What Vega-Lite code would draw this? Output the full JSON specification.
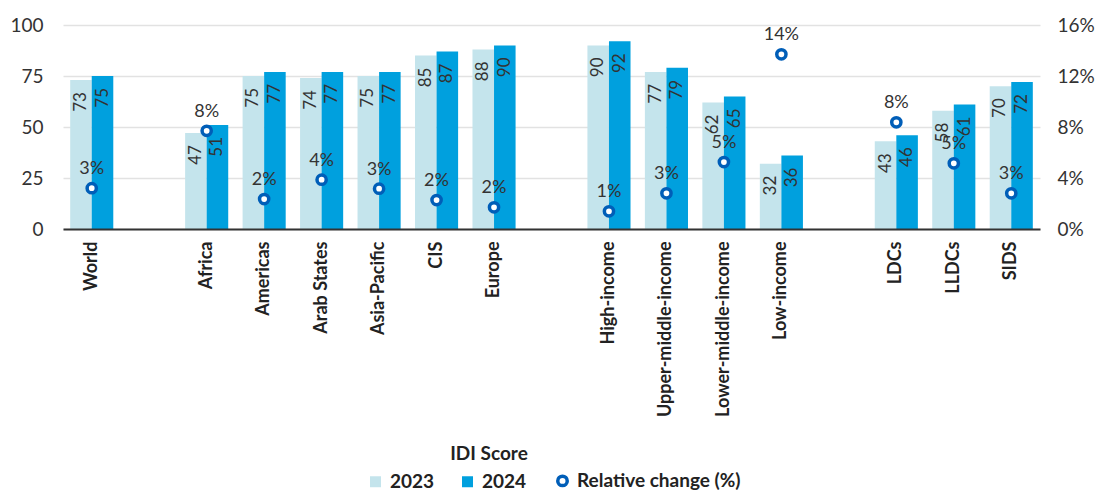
{
  "$schema": "https://vega.github.io/schema/vega-lite/v6.json",
  "width": 977,
  "height": 204,
  "autosize": {"type": "none"},
  "padding": {"left": 63, "top": 25, "right": 60, "bottom": 262},
  "background": "white",
  "config": {
    "font": "Lato",
    "view": {"stroke": null},
    "axis": {"labelFont": "Lato", "titleFont": "Lato"},
    "legend": {"labelFont": "Lato", "titleFont": "Lato"}
  },
  "datasets": {
    "scores": [
      {"region": "World", "year": "2023", "score": 73},
      {"region": "World", "year": "2024", "score": 75},
      {"region": "Africa", "year": "2023", "score": 47},
      {"region": "Africa", "year": "2024", "score": 51},
      {"region": "Americas", "year": "2023", "score": 75},
      {"region": "Americas", "year": "2024", "score": 77},
      {"region": "Arab States", "year": "2023", "score": 74},
      {"region": "Arab States", "year": "2024", "score": 77},
      {"region": "Asia-Pacific", "year": "2023", "score": 75},
      {"region": "Asia-Pacific", "year": "2024", "score": 77},
      {"region": "CIS", "year": "2023", "score": 85},
      {"region": "CIS", "year": "2024", "score": 87},
      {"region": "Europe", "year": "2023", "score": 88},
      {"region": "Europe", "year": "2024", "score": 90},
      {"region": "High-income", "year": "2023", "score": 90},
      {"region": "High-income", "year": "2024", "score": 92},
      {"region": "Upper-middle-income", "year": "2023", "score": 77},
      {"region": "Upper-middle-income", "year": "2024", "score": 79},
      {"region": "Lower-middle-income", "year": "2023", "score": 62},
      {"region": "Lower-middle-income", "year": "2024", "score": 65},
      {"region": "Low-income", "year": "2023", "score": 32},
      {"region": "Low-income", "year": "2024", "score": 36},
      {"region": "LDCs", "year": "2023", "score": 43},
      {"region": "LDCs", "year": "2024", "score": 46},
      {"region": "LLDCs", "year": "2023", "score": 58},
      {"region": "LLDCs", "year": "2024", "score": 61},
      {"region": "SIDS", "year": "2023", "score": 70},
      {"region": "SIDS", "year": "2024", "score": 72}
    ],
    "change": [
      {"region": "World", "change": 0.032},
      {"region": "Africa", "change": 0.077},
      {"region": "Americas", "change": 0.0235},
      {"region": "Arab States", "change": 0.0387},
      {"region": "Asia-Pacific", "change": 0.0316},
      {"region": "CIS", "change": 0.0227},
      {"region": "Europe", "change": 0.017},
      {"region": "High-income", "change": 0.0139},
      {"region": "Upper-middle-income", "change": 0.028},
      {"region": "Lower-middle-income", "change": 0.0525},
      {"region": "Low-income", "change": 0.137},
      {"region": "LDCs", "change": 0.0837},
      {"region": "LLDCs", "change": 0.0515},
      {"region": "SIDS", "change": 0.028}
    ]
  },
  "encoding": {
    "x": {
      "field": "region",
      "type": "nominal",
      "sort": null,
      "scale": {
        "domain": ["World", " ", "Africa", "Americas", "Arab States", "Asia-Pacific", "CIS", "Europe", "  ", "High-income", "Upper-middle-income", "Lower-middle-income", "Low-income", "   ", "LDCs", "LLDCs", "SIDS"],
        "paddingInner": 0.25,
        "paddingOuter": 0.125
      },
      "axis": {
        "title": null,
        "labelAngle": -90,
        "labelFontSize": 18,
        "labelFontWeight": "bold",
        "labelColor": "#222222",
        "labelPadding": 12,
        "labelLimit": 300,
        "ticks": false,
        "grid": false,
        "domainColor": "#333333",
        "domainWidth": 2,
        "zindex": 1
      }
    }
  },
  "layer": [
    {
      "data": {"name": "scores"},
      "encoding": {
        "xOffset": {
          "field": "year",
          "type": "nominal",
          "scale": {"paddingInner": 0, "paddingOuter": 0}
        },
        "y": {
          "field": "score",
          "type": "quantitative",
          "scale": {"domain": [0, 100], "nice": false},
          "axis": {
            "title": null,
            "values": [0, 25, 50, 75, 100],
            "grid": true,
            "gridColor": "#e2e2e2",
            "gridWidth": 1.5,
            "domain": false,
            "ticks": false,
            "labelFontSize": 19,
            "labelColor": "#333333",
            "labelPadding": 20
          }
        }
      },
      "layer": [
        {
          "mark": {"type": "bar"},
          "encoding": {
            "color": {
              "field": "year",
              "type": "nominal",
              "scale": {
                "domain": ["2023", "2024", "Relative change (%)"],
                "range": ["#c4e4ec", "#00a0de", "#ffffff"]
              },
              "legend": {
                "title": "IDI Score",
                "orient": "none",
                "legendX": 303,
                "legendY": 420,
                "direction": "horizontal",
                "titleFontSize": 19,
                "titleFontWeight": "bold",
                "titleColor": "#222222",
                "titleAnchor": "middle",
                "titlePadding": 7,
                "labelFontSize": 19,
                "labelFontWeight": "bold",
                "labelColor": "#222222",
                "labelOffset": 5,
                "labelLimit": 400,
                "columnPadding": 23,
                "symbolType": "square",
                "symbolSize": 121,
                "encode": {
                  "title": {"update": {"dx": {"value": -64}}},
                  "symbols": {
                    "update": {
                      "shape": {"signal": "datum.value === 'Relative change (%)' ? 'circle' : 'square'"},
                      "size": {"signal": "datum.value === 'Relative change (%)' ? 90 : 121"},
                      "stroke": {"signal": "datum.value === 'Relative change (%)' ? '#005eb8' : 'transparent'"},
                      "strokeWidth": {"signal": "datum.value === 'Relative change (%)' ? 3.5 : 0"}
                    }
                  }
                }
              }
            }
          }
        },
        {
          "mark": {
            "type": "text",
            "angle": 270,
            "align": "right",
            "baseline": "middle",
            "dx": -12,
            "fontSize": 17,
            "fill": "#333333"
          },
          "encoding": {
            "text": {"field": "score", "type": "quantitative"}
          }
        }
      ]
    },
    {
      "data": {"name": "change"},
      "encoding": {
        "y": {
          "field": "change",
          "type": "quantitative",
          "scale": {"domain": [0, 0.16], "nice": false},
          "axis": {
            "orient": "right",
            "title": null,
            "format": ".0%",
            "values": [0, 0.04, 0.08, 0.12, 0.16],
            "grid": false,
            "domain": false,
            "ticks": false,
            "labelFontSize": 19,
            "labelColor": "#333333",
            "labelPadding": 17
          }
        }
      },
      "layer": [
        {
          "mark": {
            "type": "point",
            "shape": "circle",
            "filled": true,
            "fill": "#ffffff",
            "stroke": "#005eb8",
            "strokeWidth": 3.5,
            "size": 85,
            "opacity": 1
          }
        },
        {
          "mark": {
            "type": "text",
            "baseline": "alphabetic",
            "align": "center",
            "dy": -14,
            "fontSize": 18,
            "fill": "#333333"
          },
          "encoding": {
            "text": {"field": "change", "type": "quantitative", "format": ".0%"}
          }
        }
      ]
    }
  ],
  "resolve": {"scale": {"y": "independent"}}
}
